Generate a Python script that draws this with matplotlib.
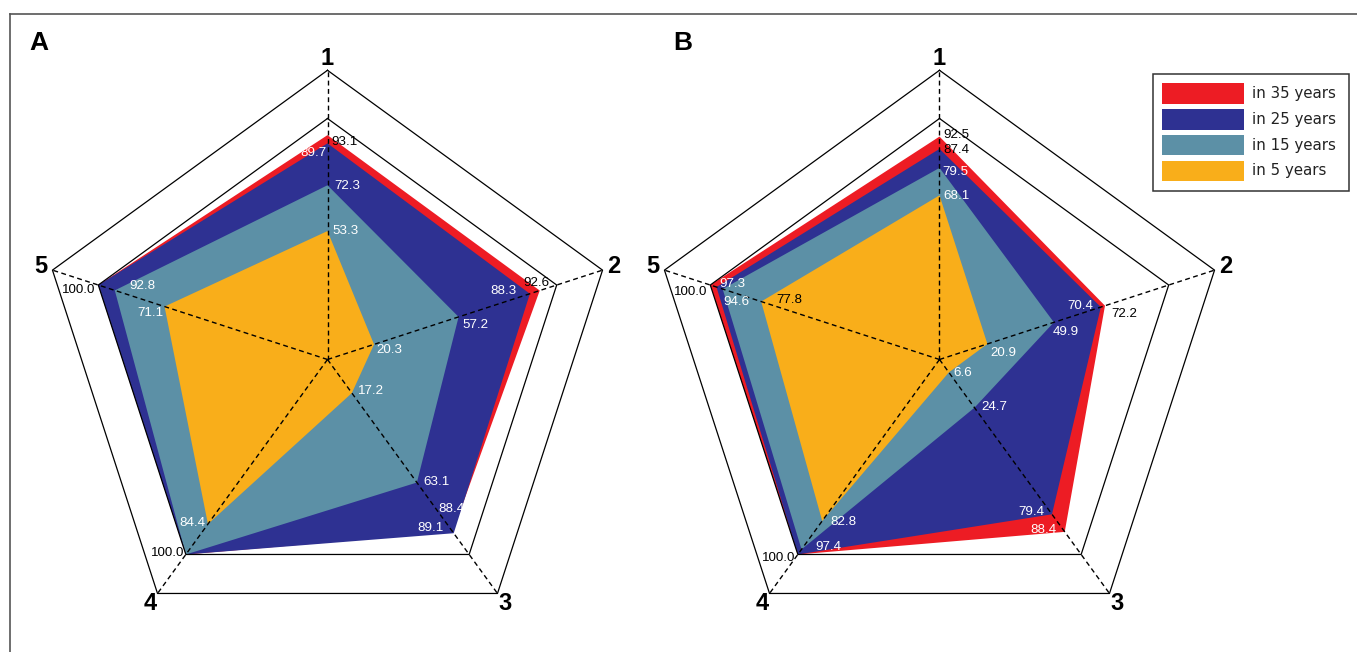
import numpy as np
import matplotlib
matplotlib.use("Agg")
import matplotlib.pyplot as plt
from matplotlib.patches import Rectangle
from matplotlib.lines import Line2D

# values per series along axes 1..5
axis_names = ["1", "2", "3", "4", "5"]
series_names = ["in 35 years", "in 25 years", "in 15 years", "in 5 years"]
colors = ["#ED1C24", "#2E3192", "#5C90A6", "#F9AE1A"]

a_35 = [93.1, 92.6, 88.4, 100.0, 100.0]
a_25 = [89.7, 88.3, 89.1, 100.0, 100.0]
a_15 = [72.3, 57.2, 63.1, 100.0, 92.8]
a_5 = [53.3, 20.3, 17.2, 84.4, 71.1]

b_35 = [92.5, 72.2, 88.4, 100.0, 100.0]
b_25 = [87.4, 70.4, 79.4, 100.0, 97.3]
b_15 = [79.5, 49.9, 24.7, 97.4, 94.6]
b_5 = [68.1, 20.9, 6.6, 82.8, 77.8]

rings = [100, 120]

W, H = 1357, 652
S = 2.41  # pixels per value unit

# label placement: (series, axis) -> (ha, dx px, dy px downwards, colour)
a_labels = {
    (0, 0): ("left", 4, 7, "k"), (1, 0): ("right", -1, 10, "w"),
    (2, 0): ("left", 7, 1, "w"), (3, 0): ("left", 5, 0, "w"),
    (0, 1): ("center", -3, -8, "k"), (1, 1): ("right", -13, -3, "w"),
    (2, 1): ("left", 4, 8, "w"), (3, 1): ("left", 2, 6, "w"),
    (0, 2): ("center", -1, -23, "w"), (1, 2): ("right", -10, -5, "w"),
    (2, 2): ("left", 6, -1, "w"), (3, 2): ("left", 6, -2, "w"),
    (0, 3): ("right", -2, -1, "k"), (3, 3): ("right", -3, -1, "w"),
    (0, 4): ("right", -3, 5, "k"), (2, 4): ("left", 15, -4, "w"),
    (3, 4): ("right", -1, 6, "w"),
}
b_labels = {
    (0, 0): ("left", 4, -2, "k"), (1, 0): ("left", 4, 1, "k"),
    (2, 0): ("left", 3, 4, "w"), (3, 0): ("left", 4, 1, "w"),
    (0, 1): ("left", 6, 8, "k"), (1, 1): ("right", -8, -1, "w"),
    (2, 1): ("left", -1, 10, "w"), (3, 1): ("left", 3, 9, "w"),
    (0, 2): ("right", -8, -2, "w"), (1, 2): ("right", -8, -2, "w"),
    (2, 2): ("left", 7, -1, "w"), (3, 2): ("left", 5, 1, "w"),
    (0, 3): ("right", -3, 4, "k"), (2, 3): ("left", 14, -2, "w"),
    (3, 3): ("left", 8, 1, "w"),
    (0, 4): ("right", -3, 7, "k"), (1, 4): ("left", 3, -3, "w"),
    (2, 4): ("left", 1, 13, "w"), (3, 4): ("left", 15, -2, "k"),
}

num_font = ["Liberation Sans", "DejaVu Sans"]
theta = np.deg2rad(np.arange(5) * 72)


def xy(vals):
    vals = np.asarray(vals)
    return vals * np.sin(theta), vals * np.cos(theta)


def radar(fig, cx, cy, data, labels):
    ax = fig.add_axes([0, 0, 1, 1])
    ax.set_xlim(-cx / S, (W - cx) / S)
    ax.set_ylim(-(H - cy) / S, cy / S)
    ax.axis("off")
    ax.patch.set_alpha(0)

    for vals, c in zip(data, colors):
        x, y = xy(vals)
        ax.fill(x, y, color=c, lw=0, zorder=2)

    for r in rings:
        x, y = xy([r] * 5)
        ax.plot(np.r_[x, x[0]], np.r_[y, y[0]], color="k", lw=0.9, zorder=3)
    ox, oy = xy([rings[-1]] * 5)
    for i in range(5):
        ax.plot([0, ox[i]], [0, oy[i]], color="k", lw=1.0,
                ls=(0, (3.5, 2.5)), zorder=4)

    tx, ty = xy([125] * 5)
    for i, name in enumerate(axis_names):
        ax.text(tx[i], ty[i], name, ha="center", va="center", fontsize=17,
                fontweight="bold", family=["Liberation Sans", "DejaVu Sans"],
                zorder=5)

    for (s, i), (ha, dx, dy, col) in labels.items():
        x, y = xy(data[s])
        ax.annotate(f"{data[s][i]:.1f}", (x[i], y[i]), xytext=(dx, -dy),
                    textcoords="offset pixels", ha=ha, va="center",
                    fontsize=9.6, color=col, family=num_font, zorder=6)
    return ax


fig = plt.figure(figsize=(W / 100, H / 100), dpi=100)

radar(fig, 327.5, 359.5, [a_35, a_25, a_15, a_5], a_labels)
radar(fig, 939.5, 359.5, [b_35, b_25, b_15, b_5], b_labels)

# panel letters
for name, px in [("A", 38.5), ("B", 683)]:
    fig.text(px / W, 1 - 43.5 / H, name, ha="center", va="center",
             fontsize=19, fontweight="bold",
             family=["Liberation Sans", "DejaVu Sans"])

# outer frame (top and left edges)
fig.add_artist(Line2D([10 / W, 1], [1 - 14 / H, 1 - 14 / H],
                      color="#555555", lw=1.2))
fig.add_artist(Line2D([10 / W, 10 / W], [0, 1 - 14 / H],
                      color="#555555", lw=1.2))

# legend
fig.add_artist(Rectangle((1152.5 / W, 1 - 190.5 / H), 196 / W, 117 / H,
                         transform=fig.transFigure, fill=False,
                         edgecolor="#333333", lw=1.1))
for k, (name, c) in enumerate(zip(series_names, colors)):
    yc = 93.3 + k * 25.9
    fig.add_artist(Rectangle((1161.5 / W, 1 - (yc + 10.3) / H), 82.5 / W,
                             20.6 / H, transform=fig.transFigure,
                             facecolor=c, edgecolor="none"))
    fig.text(1251.5 / W, 1 - yc / H, name, ha="left", va="center",
             fontsize=10.8, color="#222222", family="DejaVu Sans")

fig.savefig("out.png", dpi=100)
